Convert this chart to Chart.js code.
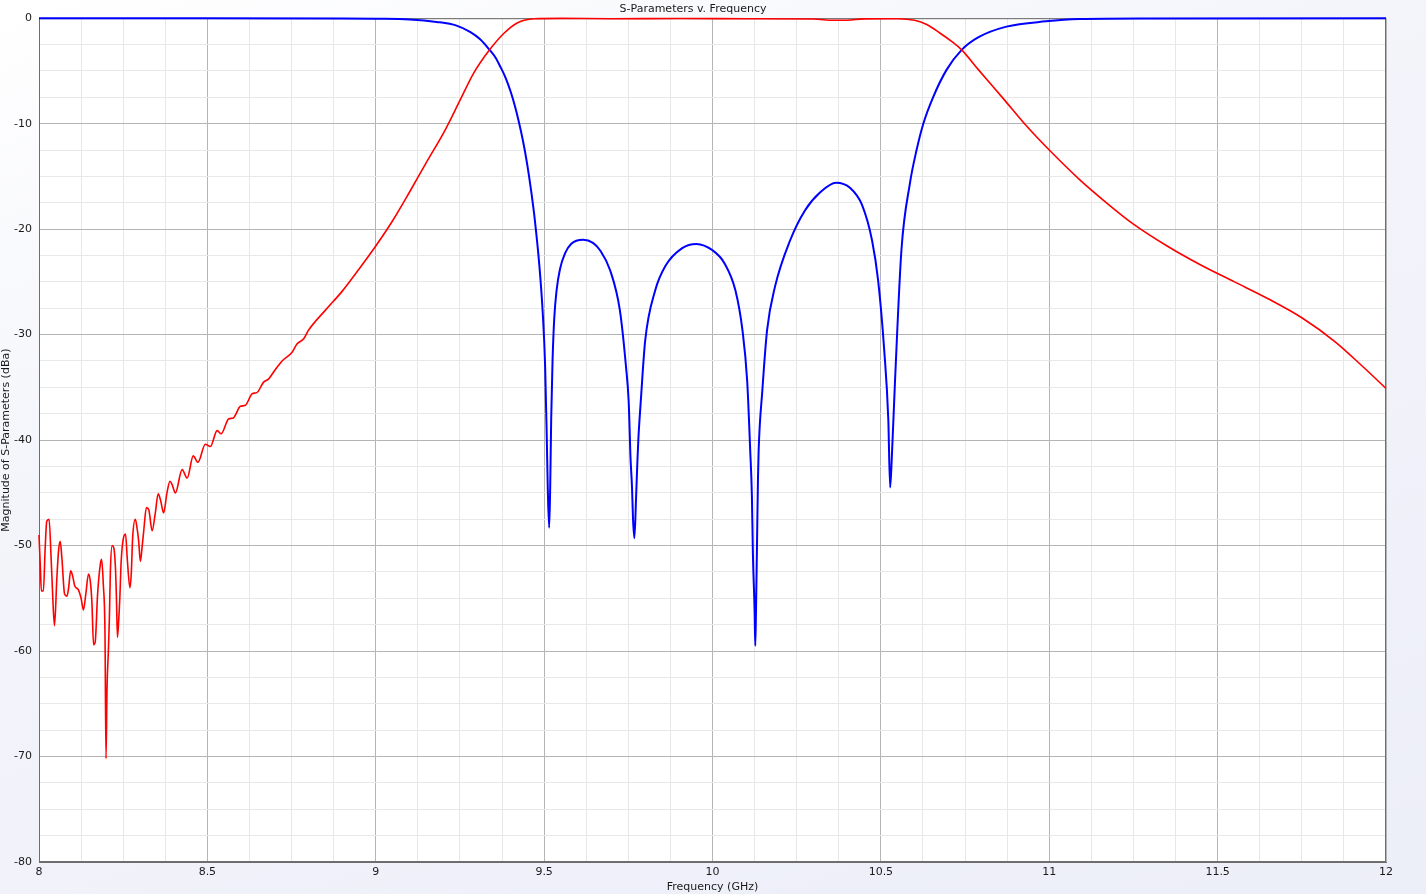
<!DOCTYPE html>
<html>
<head>
<meta charset="utf-8">
<script src="https://cdn.jsdelivr.net/npm/chart.js@4/dist/chart.umd.min.js"></script>
<style>
  html, body { margin: 0; padding: 0; }
  body { width: 1426px; height: 894px; overflow: hidden;
         background: linear-gradient(160deg, #ffffff 0%, #f4f5fb 35%, #eceef8 100%); }
  canvas { display: block; }
</style>
</head>
<body>
<canvas id="c" width="1426" height="894"></canvas>
<script>
// ---- data ----
const chartTitle = "S-Parameters v. Frequency";
const xAxisTitle = "Frequency (GHz)";
const yAxisTitle = "Magnitude of S-Parameters (dBa)";
const xMin = 8, xMax = 12, xMajor = 0.5, xMinor = 0.125;
const yMin = -80, yMax = 0, yMajor = 10, yMinor = 2.5;

// S21 (red)
const freqS21 = [
  8.000, 8.004, 8.007, 8.013, 8.018, 8.023, 8.030, 8.036, 8.041, 8.046,
  8.053, 8.058, 8.063, 8.068, 8.076, 8.083, 8.088, 8.094, 8.100, 8.106,
  8.117, 8.125, 8.132, 8.139, 8.147, 8.152, 8.157, 8.162, 8.167, 8.174,
  8.182, 8.186, 8.191, 8.196, 8.199, 8.202, 8.206, 8.209, 8.212, 8.217,
  8.222, 8.227, 8.230, 8.233, 8.237, 8.240, 8.244, 8.252, 8.257, 8.262,
  8.270, 8.274, 8.278, 8.286, 8.291, 8.296, 8.301, 8.306, 8.311, 8.319,
  8.326, 8.336, 8.345, 8.354, 8.361, 8.370, 8.380, 8.389, 8.395, 8.405,
  8.425, 8.440, 8.458, 8.472, 8.494, 8.509, 8.529, 8.541, 8.563, 8.577,
  8.598, 8.613, 8.633, 8.647, 8.667, 8.682, 8.702, 8.722, 8.751, 8.766,
  8.786, 8.800, 8.850, 8.900, 8.950, 9.000, 9.050, 9.100, 9.150, 9.206,
  9.250, 9.290, 9.338, 9.380, 9.420, 9.470, 9.550, 9.700, 9.900, 10.100,
  10.300, 10.360, 10.400, 10.450, 10.550, 10.600, 10.636, 10.675, 10.710, 10.740,
  10.790, 10.863, 10.932, 11.000, 11.090, 11.170, 11.249, 11.350, 11.450, 11.550,
  11.650, 11.750, 11.850, 11.930, 12.000
];
const s21 = [
  -49.0, -52.0, -54.3, -54.3, -50.5, -47.7, -47.5, -51.2, -55.0, -57.6,
  -53.1, -50.5, -49.6, -51.2, -54.6, -54.8, -54.0, -52.4, -52.9, -53.8,
  -54.2, -55.0, -56.1, -54.6, -52.7, -53.3, -55.3, -59.4, -59.1, -54.6,
  -51.8, -51.3, -53.7, -58.4, -70.2, -63.5, -60.0, -56.9, -52.4, -50.0,
  -50.2, -52.1, -55.0, -58.7, -56.9, -55.0, -51.5, -49.1, -48.9, -51.2,
  -54.0, -52.7, -49.3, -47.5, -48.3, -49.6, -51.5, -50.2, -48.6, -46.4,
  -46.6, -48.6, -47.0, -45.1, -45.7, -46.9, -45.0, -43.9, -44.2, -45.0,
  -42.8, -43.6, -41.5, -42.1, -40.4, -40.6, -39.1, -39.4, -38.0, -37.9,
  -36.8, -36.7, -35.6, -35.5, -34.5, -34.2, -33.3, -32.5, -31.7, -30.9,
  -30.4, -29.6, -27.7, -25.9, -23.8, -21.6, -19.2, -16.5, -13.7, -10.6,
  -7.8, -5.25, -3.0, -1.45, -0.45, -0.05, -0.02, -0.05, -0.03, -0.05,
  -0.08, -0.2, -0.2, -0.06, -0.05, -0.2, -0.6, -1.4, -2.2, -3.0,
  -4.9, -7.6, -10.2, -12.5, -15.3, -17.5, -19.5, -21.6, -23.4, -25.0,
  -26.6, -28.4, -30.7, -33.0, -35.1
];

// S11 (blue)
const freqS11 = [
  8.000, 8.500, 8.900, 9.000, 9.100, 9.180, 9.240, 9.280, 9.310, 9.338,
  9.355, 9.370, 9.385, 9.400, 9.413, 9.424, 9.437, 9.450, 9.462, 9.473,
  9.486, 9.496, 9.503, 9.508, 9.511, 9.515, 9.518, 9.521, 9.525, 9.530,
  9.537, 9.547, 9.562, 9.580, 9.616, 9.645, 9.666, 9.696, 9.725, 9.743,
  9.751, 9.754, 9.756, 9.761, 9.764, 9.768, 9.773, 9.777, 9.780, 9.783,
  9.787, 9.800, 9.830, 9.860, 9.910, 9.952, 10.000, 10.035, 10.068, 10.089,
  10.103, 10.112, 10.117, 10.120, 10.125, 10.127, 10.129, 10.132, 10.135, 10.137,
  10.148, 10.162, 10.186, 10.230, 10.275, 10.320, 10.367, 10.409, 10.444, 10.474,
  10.492, 10.510, 10.522, 10.5275, 10.532, 10.542, 10.561, 10.586, 10.606, 10.626,
  10.655, 10.695, 10.740, 10.790, 10.873, 10.990, 11.090, 11.300, 12.000
];
const s11 = [
  -0.01, -0.01, -0.02, -0.05, -0.12, -0.35, -0.7, -1.3, -2.0, -3.0,
  -3.7, -4.6, -5.6, -6.9, -8.3, -9.7, -11.6, -13.9, -16.5, -19.3,
  -23.5, -28.0, -33.0, -40.0, -44.8, -48.3, -44.5, -38.0, -32.5, -28.5,
  -25.8, -23.8, -22.3, -21.4, -21.0, -21.3, -22.0, -23.9, -27.7, -33.0,
  -36.3, -39.1, -41.3, -44.5, -47.5, -49.3, -45.5, -42.0, -39.8, -38.2,
  -36.3, -30.6, -25.8, -23.5, -21.8, -21.4, -22.0, -23.2, -25.8, -29.6,
  -34.4, -41.0, -45.3, -50.8, -56.2, -59.5, -56.5, -50.2, -43.7, -41.0,
  -35.3, -29.6, -25.4, -21.1, -18.2, -16.5, -15.6, -16.1, -17.7, -21.1,
  -24.9, -31.5, -38.0, -44.5, -42.0, -34.4, -22.0, -15.7, -12.5, -10.0,
  -7.5, -4.9, -3.0, -1.8, -0.8, -0.3, -0.08, -0.02, 0.0
];

// ---- build ----
const toXY = (xs, ys) => xs.map((x, i) => ({ x: x, y: ys[i] }));
const near = (v, step) => Math.abs(v / step - Math.round(v / step)) < 1e-6;

Chart.defaults.font.family = "'DejaVu Sans', 'Liberation Sans', sans-serif";
Chart.defaults.font.size = 11;
Chart.defaults.color = '#1a1a1a';

const plotBg = {
  id: 'plotBg',
  beforeDraw(chart) {
    const a = chart.chartArea, ctx = chart.ctx;
    ctx.save();
    ctx.fillStyle = '#ffffff';
    ctx.fillRect(a.left, a.top, a.right - a.left, a.bottom - a.top);
    ctx.restore();
  },
  beforeDatasetsDraw(chart) {
    const a = chart.chartArea, ctx = chart.ctx;
    ctx.save();
    ctx.strokeStyle = '#6e6e6e';
    ctx.lineWidth = 1;
    ctx.strokeRect(a.left + 0.5, a.top + 0.5, a.right - a.left - 1, a.bottom - a.top - 1);
    ctx.restore();
  }
};

new Chart(document.getElementById('c'), {
  type: 'line',
  data: {
    datasets: [
      { label: 'S21', data: toXY(freqS21, s21), borderColor: '#ff0000', borderWidth: 1.6,
        pointRadius: 0, cubicInterpolationMode: 'monotone', fill: false },
      { label: 'S11', data: toXY(freqS11, s11), borderColor: '#0000ff', borderWidth: 2,
        pointRadius: 0, cubicInterpolationMode: 'monotone', fill: false }
    ]
  },
  options: {
    responsive: false,
    animation: false,
    clip: false,
    layout: { padding: { left: 0, right: 40, top: 0, bottom: 0 } },
    plugins: {
      legend: { display: false },
      tooltip: { enabled: false },
      title: { display: true, text: chartTitle, padding: { top: 3, bottom: 2 },
               font: { size: 11, weight: 'normal' }, color: '#1a1a1a' }
    },
    scales: {
      x: {
        type: 'linear', min: xMin, max: xMax,
        afterFit: s => { s.height = 32; },
        border: { display: true, color: '#6e6e6e', width: 1 },
        grid: { drawTicks: false,
                color: c => near(c.tick.value, xMajor) ? '#b4b4b4' : '#e8e8e8' },
        ticks: { stepSize: xMinor, autoSkip: false, maxRotation: 0, padding: 4,
                 callback: v => near(v, xMajor) ? String(+v.toFixed(3)) : '' },
        title: { display: true, text: xAxisTitle, padding: { top: 3, bottom: 0 },
                 font: { size: 11 } }
      },
      y: {
        type: 'linear', min: yMin, max: yMax,
        afterFit: s => { s.width = 39; },
        border: { display: true, color: '#6e6e6e', width: 1 },
        grid: { drawTicks: false,
                color: c => near(c.tick.value, yMajor) ? '#b4b4b4' : '#e8e8e8' },
        ticks: { stepSize: yMinor, autoSkip: false, padding: 7,
                 callback: v => near(v, yMajor) ? String(v) : '' },
        title: { display: true, text: yAxisTitle, padding: { top: 0, bottom: 0 },
                 font: { size: 11 } }
      }
    }
  },
  plugins: [plotBg]
});
</script>
</body>
</html>
